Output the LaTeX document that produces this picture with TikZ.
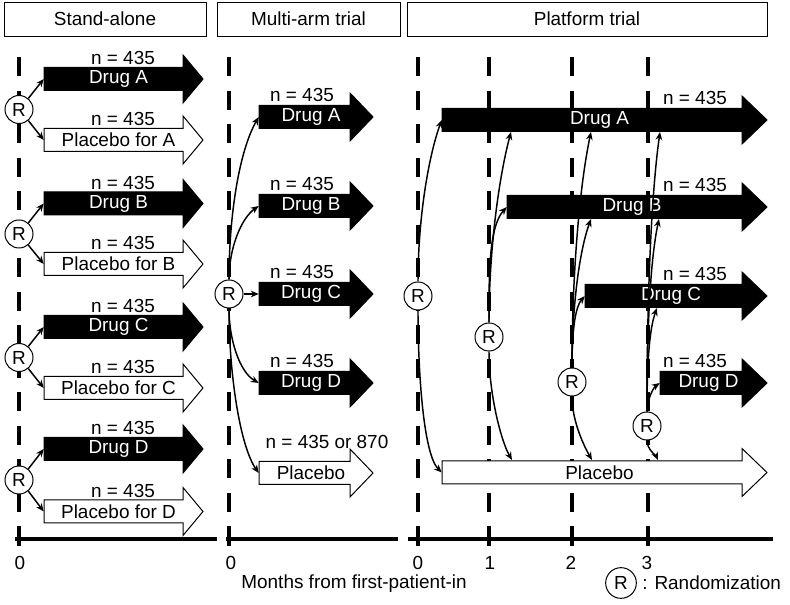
\documentclass[tikz,border=0pt]{standalone}
\usepackage{fontspec}
\setmainfont{Liberation Sans}
\usetikzlibrary{arrows.meta}
% #1 name, #2 x left, #3 x head base, #4 x tip, #5 y centre, #6 style, #7 text colour, #8 text
\newcommand\bigarrow[8]{%
  \draw[#6] (#2,#5-11.5) -- (#3,#5-11.5) -- (#3,#5-24) -- (#4,#5) -- (#3,#5+24) -- (#3,#5+11.5) -- (#2,#5+11.5) -- cycle;
  \node[inner sep=0, minimum width={(#3-#2)*0.75pt}, minimum height=17.25pt] (#1) at ({(#2+#3)/2},#5) {};
  \node[text=#7, inner sep=0] (#1t) at ({(#2+#4)/2-5},#5) {#8};
}
\begin{document}
\begin{tikzpicture}[x=0.75pt,y=-0.75pt,
  every node/.style={font=\fontsize{14.2}{16}\selectfont},
  hdr/.style={draw, line width=0.6pt, minimum height=25.5pt, inner sep=0},
  dashline/.style={line width=3.3pt, dash pattern=on 14.25pt off 10.9pt},
  axisline/.style={line width=3pt},
  tickline/.style={line width=3pt},
  rnd/.style={circle, draw, line width=0.75pt, fill=white, minimum size=21pt, inner sep=0},
  conn/.style={line width=1.1pt, -{Stealth[length=6pt,width=5pt]}},
  drugarrow/.style={fill=black, draw=black, line width=0.75pt},
  placarrow/.style={fill=white, draw=black, line width=0.75pt},
  nlab/.style={inner sep=0},
]
\useasboundingbox (0,0) rectangle (790,605);

% headers
\node[hdr, minimum width=151.5pt] (h1) at (105,19) {Stand-alone};
\node[hdr, minimum width=137.25pt] (h2) at (308.5,19) {Multi-arm trial};
\node[hdr, minimum width=270pt] (h3) at (587,19) {Platform trial};

% dashed time lines
\foreach \xx in {19,229,418,489,572,648}
  \draw[dashline] (\xx,57) -- (\xx,533);

% axes
\draw[axisline] (15,539) -- (217,539);
\draw[axisline] (226,539) -- (398,539);
\draw[axisline] (408,539) -- (773,539);
\foreach \xx in {19,229,418,489,572,648}
  \draw[tickline] (\xx,533) -- (\xx,546);

\node (t0a) at (20,563) {0};
\node (t0b) at (231,563) {0};
\node (t0c) at (418,563) {0};
\node (t1) at (490,563) {1};
\node (t2) at (571,563) {2};
\node (t3) at (647,563) {3};
\node (xlab) at (354,584) {Months from first-patient-in};

% legend
\node[rnd, minimum size=23pt] (legR) at (621,583) {R};
\node[anchor=west, inner sep=0] (legT) at (642,583) {: Randomization};

% ---------------- Stand-alone ----------------
\bigarrow{sA}{44}{183}{203}{79}{drugarrow}{white}{Drug A}
\bigarrow{sPA}{44}{183}{203}{140}{placarrow}{black}{Placebo for A}
\bigarrow{sB}{44}{183}{203}{203.5}{drugarrow}{white}{Drug B}
\bigarrow{sPB}{44}{183}{203}{264}{placarrow}{black}{Placebo for B}
\bigarrow{sC}{44}{183}{203}{327}{drugarrow}{white}{Drug C}
\bigarrow{sPC}{44}{183}{203}{388}{placarrow}{black}{Placebo for C}
\bigarrow{sD}{44}{183}{203}{449}{drugarrow}{white}{Drug D}
\bigarrow{sPD}{44}{183}{203}{511.5}{placarrow}{black}{Placebo for D}
\foreach \nm/\yy in {sA/79,sPA/140,sB/203.5,sPB/264,sC/327,sPC/388,sD/449,sPD/511.5}
  \node[nlab] (\nm n) at (123,\yy-21) {n = 435};

\node[rnd] (sR1) at (19,109.5) {R};
\node[rnd] (sR2) at (19,234) {R};
\node[rnd] (sR3) at (19,357.5) {R};
\node[rnd] (sR4) at (19,480) {R};
\draw[conn] (sR1.50) -- (sA.west);
\draw[conn] (sR1.-50) -- (sPA.west);
\draw[conn] (sR2.50) -- (sB.west);
\draw[conn] (sR2.-50) -- (sPB.west);
\draw[conn] (sR3.50) -- (sC.west);
\draw[conn] (sR3.-50) -- (sPC.west);
\draw[conn] (sR4.50) -- (sD.west);
\draw[conn] (sR4.-50) -- (sPD.west);

% ---------------- Multi-arm ----------------
\bigarrow{mA}{259}{350}{373}{117}{drugarrow}{white}{Drug A}
\bigarrow{mB}{259}{350}{373}{206}{drugarrow}{white}{Drug B}
\bigarrow{mC}{259}{350}{373}{294}{drugarrow}{white}{Drug C}
\bigarrow{mD}{259}{350}{373}{383}{drugarrow}{white}{Drug D}
\bigarrow{mP}{259}{350}{373}{473}{placarrow}{black}{Placebo}
\foreach \nm/\yy in {mA/117,mB/206,mC/294,mD/383}
  \node[nlab] (\nm n) at (302,\yy-22) {n = 435};
\node[nlab] (mPn) at (327,442) {n = 435 or 870};

\node[rnd] (mR) at (229,294) {R};
\draw[conn] (mR.north) to[out=90,in=240,in looseness=0.6] (mA.west);
\draw[conn] (mR.north) to[out=90,in=215,in looseness=0.7] (mB.west);
\draw[conn] (mR.east) -- (mC.west);
\draw[conn] (mR.south) to[out=-90,in=150,in looseness=0.7] (mD.west);
\draw[conn] (mR.south) to[out=-90,in=125,in looseness=0.5] (mP.west);

% ---------------- Platform ----------------
\bigarrow{pA}{442}{742}{767}{120}{drugarrow}{white}{Drug A}
\bigarrow{pB}{507}{742}{767}{207}{drugarrow}{white}{Drug B}
\bigarrow{pC}{585}{742}{767}{296}{drugarrow}{white}{Drug C}
\bigarrow{pD}{660}{742}{767}{383}{drugarrow}{white}{Drug D}
\bigarrow{pP}{442}{742}{767}{472.5}{placarrow}{black}{Placebo}
\foreach \nm/\yy in {pA/120,pB/207,pC/296,pD/383}
  \node[nlab] (\nm n) at (695,\yy-22) {n = 435};

\coordinate (pA1) at (511,132);
\coordinate (pA2) at (591,132);
\coordinate (pA3) at (660,132);
\coordinate (pB2) at (591,219);
\coordinate (pB3) at (659,219);
\coordinate (pC3) at (657,308);
\coordinate (pP1) at (512,460);
\coordinate (pP2) at (592,460);
\coordinate (pP3) at (658,460);

\node[rnd] (pR0) at (418,296) {R};
\node[rnd] (pR1) at (489,337) {R};
\node[rnd] (pR2) at (572,382) {R};
\node[rnd] (pR3) at (647,426) {R};

\draw[conn] (pR0.north) to[out=90,in=250,in looseness=0.6] (pA.west);
\draw[conn] (pR0.south) to[out=-90,in=135,in looseness=0.4] (pP.west);

\draw[conn] (pR1.north) to[out=90,in=255,in looseness=0.6] (pA1);
\draw[conn] (pR1.north) to[out=90,in=228,in looseness=0.6] (pB.west);
\draw[conn] (pR1.south) to[out=-90,in=120,in looseness=0.5] (pP1);

\draw[conn] (pR2.north) to[out=90,in=258,in looseness=0.6] (pA2);
\draw[conn] (pR2.north) to[out=90,in=250,in looseness=0.6] (pB2);
\draw[conn] (pR2.north) to[out=90,in=230,in looseness=0.6] (pC.west);
\draw[conn] (pR2.south) to[out=-90,in=120,in looseness=0.5] (pP2);

\draw[conn] (pR3.north) to[out=90,in=262,in looseness=0.6] (pA3);
\draw[conn] (pR3.north) to[out=90,in=258,in looseness=0.6] (pB3);
\draw[conn] (pR3.north) to[out=90,in=250,in looseness=0.6] (pC3);
\draw[conn] (pR3.north) to[out=90,in=215,in looseness=0.6] (pD.west);
\draw[conn] (pR3.south) to[out=-90,in=115,in looseness=0.5] (pP3);
\end{tikzpicture}
\end{document}
